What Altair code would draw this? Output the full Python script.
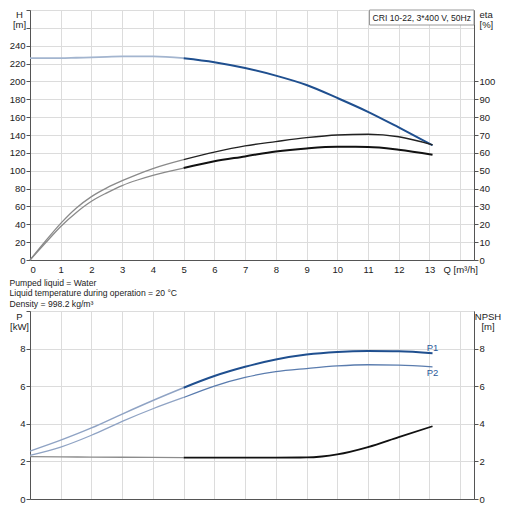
import altair as alt
import pandas as pd

# ---------------- data ----------------
Q_TOP = [0, 0.5, 1, 1.5, 2, 2.5, 3, 3.5, 4, 5, 6, 7, 8, 9, 10, 11, 12, 13.1]
H_M = [226, 226, 226, 226.5, 227, 227.5, 228, 228, 228, 226, 221.6, 215, 206.5, 196, 181.5, 166, 148.5, 128.5]
ETA_UPPER = [0, 10.5, 20.5, 29, 35.5, 40.4, 44.4, 48, 51.2, 56.2, 60.4, 63.9, 66.3, 68.5, 70.0, 70.4, 69.0, 64.5]
ETA_LOWER = [0, 9.5, 18.8, 26.5, 32.9, 37.6, 41.7, 44.8, 47.4, 51.5, 55.3, 58, 60.8, 62.5, 63.4, 63.3, 61.8, 59]

Q_BOT = [0, 1, 2, 3, 4, 5, 6, 7, 8, 9, 10, 11, 12, 13.1]
P1_KW = [2.55, 3.13, 3.78, 4.52, 5.24, 5.92, 6.54, 7.03, 7.42, 7.68, 7.82, 7.87, 7.86, 7.75]
P2_KW = [2.32, 2.76, 3.39, 4.13, 4.8, 5.4, 6.01, 6.47, 6.77, 6.94, 7.08, 7.14, 7.12, 7.03]
Q_NPSH = [0, 1, 2, 3, 4, 5, 6, 7, 8, 9, 9.5, 10, 11, 12, 13.1]
NPSH_M = [2.25, 2.24, 2.23, 2.22, 2.21, 2.2, 2.2, 2.2, 2.2, 2.21, 2.26, 2.37, 2.76, 3.29, 3.87]

X_TICKS = list(range(15))
H_TICKS = list(range(0, 281, 20))
ETA_TICKS = list(range(0, 101, 10))
P_TICKS = [0, 2, 4, 6, 8, 10]
NPSH_TICKS = [0, 2, 4, 6, 8]
INFO_LINES = ["Pumped liquid = Water",
              "Liquid temperature during operation = 20 \u00b0C",
              "Density = 998.2 kg/m\u00b3"]
PUMP_LABEL = "CRI 10-22, 3*400 V, 50Hz"
CURVE_LABELS = ["P1", "P2"]

# ---------------- layout / style ----------------
W = 444
H1 = 250
H2 = 188
XMAX = 14.45
FONT = "Liberation Sans"
FS = 9.5
FS_SMALL = 8.6
DARK_BLUE = "#1f4f8f"
PALE_BLUE = "#a3b5cf"
MID_BLUE = "#5a7cae"
SPLIT = 5.0
BOX_Q = 11.05


def parts(q, v):
    rows = []
    for qq, vv in zip(q, v):
        if qq <= SPLIT:
            rows.append({"q": qq, "v": vv, "part": "a"})
        if qq >= SPLIT:
            rows.append({"q": qq, "v": vv, "part": "b"})
    return pd.DataFrame(rows)


xs = alt.Scale(domain=[0, XMAX], nice=False, zero=False)

x_top = alt.X("q:Q", scale=xs, title=None,
              axis=alt.Axis(values=X_TICKS, grid=True, ticks=False, labelPadding=4,
                            labelExpr="datum.value == 14 ? 'Q [m\u00b3/h]' : datum.label"))
x_bot = alt.X("q:Q", scale=xs, title=None,
              axis=alt.Axis(values=X_TICKS, grid=True, ticks=False, labels=False))

h_y = alt.Y("v:Q", scale=alt.Scale(domain=[0, 280], nice=False),
            axis=alt.Axis(values=H_TICKS, orient="left", grid=True, tickSize=4, labelPadding=1,
                          labelExpr="datum.value <= 240 ? datum.label : ''",
                          title=["H", "[m]"], titleAngle=0, titleAlign="center",
                          titleBaseline="top", titleX=-11, titleY=-1))
eta_y = alt.Y("v:Q", scale=alt.Scale(domain=[0, 140], nice=False),
              axis=alt.Axis(values=ETA_TICKS, orient="right", grid=False, tickSize=4, labelPadding=1,
                            title=["eta", "[%]"], titleAngle=0, titleAlign="left",
                            titleBaseline="top", titleX=5, titleY=-1))
p_y = alt.Y("v:Q", scale=alt.Scale(domain=[0, 10], nice=False),
            axis=alt.Axis(values=P_TICKS, orient="left", grid=True, tickSize=4, labelPadding=1,
                          labelExpr="datum.value <= 8 ? datum.label : ''",
                          title=["P", "[kW]"], titleAngle=0, titleAlign="center",
                          titleBaseline="top", titleX=-11, titleY=0))
npsh_y = alt.Y("v:Q", scale=alt.Scale(domain=[0, 10], nice=False),
               axis=alt.Axis(values=NPSH_TICKS, orient="right", grid=False, tickSize=4, labelPadding=1,
                             title=["NPSH", "[m]"], titleAngle=0, titleAlign="center",
                             titleBaseline="top", titleX=13.5, titleY=0))


def line(df, part, color, width, x, y):
    return alt.Chart(df[df.part == part]).mark_line(
        color=color, strokeWidth=width, interpolate="monotone"
    ).encode(x=x, y=y)


dH = parts(Q_TOP, H_M)
dE1 = parts(Q_TOP, ETA_UPPER)
dE2 = parts(Q_TOP, ETA_LOWER)

box = alt.Chart(pd.DataFrame({"t": [PUMP_LABEL]})).mark_rect(
    fill="white", stroke="#999", strokeWidth=1
).encode(x=alt.value(W * BOX_Q / XMAX), x2=alt.value(W), y=alt.value(0), y2=alt.value(15))
box_text = alt.Chart(pd.DataFrame({"t": [PUMP_LABEL]})).mark_text(
    align="left", baseline="middle", font=FONT, fontSize=FS_SMALL, color="#222"
).encode(x=alt.value(W * BOX_Q / XMAX + 3), y=alt.value(8), text="t:N")

h_group = alt.layer(
    line(dH, "a", PALE_BLUE, 1.8, x_top, h_y),
    line(dH, "b", DARK_BLUE, 2.0, x_top, h_y),
)
eta_group = alt.layer(
    line(dE1, "a", "#8a8a8a", 1.3, x_top, eta_y),
    line(dE1, "b", "#222", 1.4, x_top, eta_y),
    line(dE2, "a", "#8a8a8a", 1.3, x_top, eta_y),
    line(dE2, "b", "#111", 2.0, x_top, eta_y),
)
top = alt.layer(h_group, eta_group, box, box_text).resolve_scale(y="independent").properties(
    width=W, height=H1)

dP1 = parts(Q_BOT, P1_KW)
dP2 = parts(Q_BOT, P2_KW)
dN = parts(Q_NPSH, NPSH_M)


def curve_label(i, pval):
    return alt.Chart(pd.DataFrame({"t": [CURVE_LABELS[i]]})).mark_text(
        font=FONT, fontSize=FS, color="#2a5a9a", baseline="middle", align="center"
    ).encode(x=alt.value(W * 13.1 / XMAX), y=alt.value(H2 * (1 - pval / 10)), text="t:N")


p_group = alt.layer(
    line(dP1, "a", "#8fa3c4", 1.4, x_bot, p_y),
    line(dP1, "b", DARK_BLUE, 2.0, x_bot, p_y),
    line(dP2, "a", "#8fa3c4", 1.3, x_bot, p_y),
    line(dP2, "b", MID_BLUE, 1.3, x_bot, p_y),
)
npsh_group = alt.layer(
    line(dN, "a", "#8c8c8c", 1.3, x_bot, npsh_y),
    line(dN, "b", "#111", 1.8, x_bot, npsh_y),
)
bottom = alt.layer(p_group, npsh_group, curve_label(0, 8.05), curve_label(1, 6.7)).resolve_scale(
    y="independent").properties(
    width=W, height=H2,
    title=alt.TitleParams(text=INFO_LINES, anchor="start", font=FONT, fontSize=FS_SMALL,
                          fontWeight="normal", lineHeight=10.5, offset=2, color="#222"),
)

chart = alt.vconcat(top, bottom, spacing=4).properties(padding=0).configure_axis(
    labelFont=FONT, labelFontSize=FS, labelColor="#222",
    titleFont=FONT, titleFontSize=FS, titleFontWeight="normal", titleColor="#222",
    titleLineHeight=10,
    gridColor="#dcdcdc", gridWidth=1, domainColor="#555", tickColor="#555",
).configure_view(stroke="#999")

chart.save("out.html", embed_options={"renderer": "svg", "actions": False})
